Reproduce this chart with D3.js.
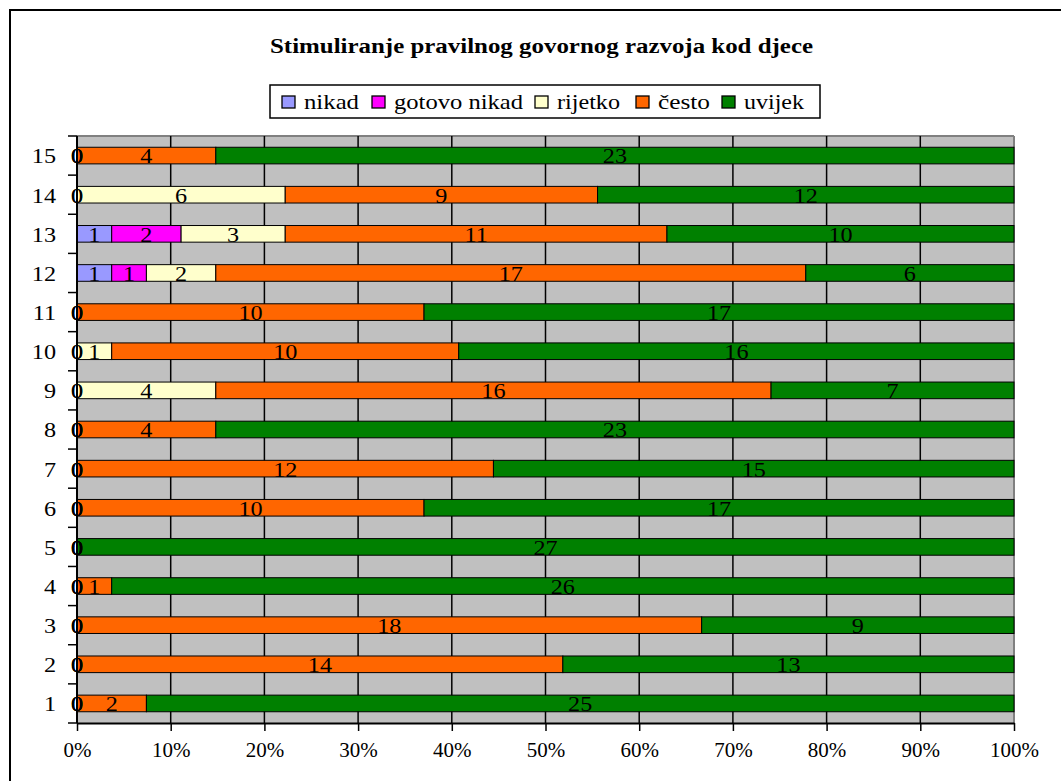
<!DOCTYPE html>
<html><head><meta charset="utf-8">
<script src="https://cdn.jsdelivr.net/npm/d3@7"></script>
<style>body{margin:0;background:#fff}svg{display:block}svg text{font-family:"Liberation Serif","Times New Roman",Times,serif}</style>
</head><body>
<svg id="c" width="1061" height="781"></svg>
<script>
const categories = ["1","2","3","4","5","6","7","8","9","10","11","12","13","14","15"];
const seriesNames = ["nikad","gotovo nikad","rijetko","često","uvijek"];
const seriesColors = ["#9999FF","#FF00FF","#FFFFCC","#FF6600","#008000"];
const nikad       = [0,0,0,0,0,0,0,0,0,0,0,1,1,0,0];
const gotovoNikad = [0,0,0,0,0,0,0,0,0,0,0,1,2,0,0];
const rijetko     = [0,0,0,0,0,0,0,0,4,1,0,2,3,6,0];
const cesto       = [2,14,18,1,0,10,12,4,16,10,10,17,11,9,4];
const uvijek      = [25,13,9,26,27,17,15,23,7,16,17,6,10,12,23];
const xTicks = [0,0.1,0.2,0.3,0.4,0.5,0.6,0.7,0.8,0.9,1];
const title = "Stimuliranje pravilnog govornog razvoja kod djece";

const seriesVals = [nikad, gotovoNikad, rijetko, cesto, uvijek];
const rows = categories.map((c,i)=>{
  const o = {cat:c};
  seriesNames.forEach((s,j)=>o[s]=seriesVals[j][i]);
  return o;
});
const stacked = d3.stack().keys(seriesNames).offset(d3.stackOffsetExpand)(rows);

const svg = d3.select("#c");
const L=77, R=1014, T=136, B=723;
const SX = 1.1;

svg.append("rect").attr("x",10).attr("y",10).attr("width",1070).attr("height",820)
  .attr("fill","#fff").attr("stroke","#000").attr("stroke-width",2);

svg.append("text").attr("x",270).attr("y",53)
  .attr("font-weight","bold").attr("font-size",20)
  .attr("textLength",543).attr("lengthAdjust","spacingAndGlyphs").text(title);

const x = d3.scaleLinear().domain([0,1]).range([L,R]);
const y = d3.scaleBand().domain(categories.slice().reverse()).range([T,B]).paddingInner(0.575).paddingOuter(0.2875);
const yb = d3.scaleBand().domain(categories.slice().reverse()).range([T,B]);

svg.append("rect").attr("x",L).attr("y",T).attr("width",R-L).attr("height",B-T).attr("fill","#C0C0C0");
svg.append("line").attr("x1",L).attr("x2",R).attr("y1",T).attr("y2",T).attr("stroke","#808080").attr("stroke-width",2);
svg.append("line").attr("x1",R).attr("x2",R).attr("y1",T).attr("y2",B).attr("stroke","#808080").attr("stroke-width",2);
svg.append("g").selectAll("line").data(xTicks.slice(1,-1)).join("line")
  .attr("x1",d=>x(d)).attr("x2",d=>x(d)).attr("y1",T).attr("y2",B).attr("stroke","#000").attr("stroke-width",1.5);

const g = svg.append("g");
stacked.forEach((layer,j)=>{
  g.append("g").selectAll("rect").data(layer).join("rect")
    .attr("x",d=>x(d[0])).attr("width",d=>x(d[1])-x(d[0]))
    .attr("y",d=>y(d.data.cat)).attr("height",y.bandwidth())
    .attr("fill",seriesColors[j]).attr("stroke","#000").attr("stroke-width",1)
    .attr("display",d=>d[1]-d[0]>0?null:"none");
});
stacked.forEach((layer,j)=>{
  g.append("g").selectAll("text").data(layer).join("text")
    .attr("transform",d=>`translate(${x((d[0]+d[1])/2)},${y(d.data.cat)+y.bandwidth()/2}) scale(${SX},1)`)
    .attr("dy","0.36em").attr("text-anchor","middle")
    .attr("font-size",22).attr("fill","#000")
    .text(d=>d.data[seriesNames[j]]);
});

const xa = svg.append("g").attr("transform",`translate(0,${B})`)
  .call(d3.axisBottom(x).tickValues(xTicks).tickFormat(d3.format(".0%")).tickSize(8).tickSizeOuter(0));
xa.select(".domain").attr("stroke-width",2);
xa.selectAll(".tick line").attr("stroke-width",1.5);
xa.selectAll("text").attr("font-family",null).attr("font-size",21).attr("y",26).attr("dy","0.36em").attr("fill","#000");
xa.attr("font-family",null);

const ya = svg.append("g").attr("transform",`translate(${L},0)`);
ya.append("line").attr("x1",0).attr("x2",0).attr("y1",T).attr("y2",B).attr("stroke","#000").attr("stroke-width",2);
const bounds = categories.map(c=>yb(c)).concat([B]);
ya.selectAll(".tk").data(bounds).join("line").attr("class","tk")
  .attr("x1",-9).attr("x2",0).attr("y1",d=>d).attr("y2",d=>d).attr("stroke","#000").attr("stroke-width",1.5);
ya.selectAll(".lb").data(categories).join("text").attr("class","lb")
  .attr("transform",d=>`translate(-21,${yb(d)+yb.bandwidth()/2}) scale(${SX},1)`)
  .attr("dy","0.36em").attr("text-anchor","end")
  .attr("font-size",22).text(d=>d);

const lg = svg.append("g");
lg.append("rect").attr("x",270).attr("y",85).attr("width",550).attr("height",33).attr("fill","#fff").attr("stroke","#000").attr("stroke-width",1.5);
const lx = [282,372,535,636,722];
const lw = [55,129,63,52,60];
seriesNames.forEach((s,j)=>{
  lg.append("rect").attr("x",lx[j]).attr("y",96).attr("width",13).attr("height",12)
    .attr("fill",seriesColors[j]).attr("stroke","#000").attr("stroke-width",1.3);
  lg.append("text").attr("x",lx[j]+22).attr("y",109)
    .attr("font-size",22)
    .attr("textLength",lw[j]).attr("lengthAdjust","spacingAndGlyphs").text(s);
});
</script>
</body></html>
